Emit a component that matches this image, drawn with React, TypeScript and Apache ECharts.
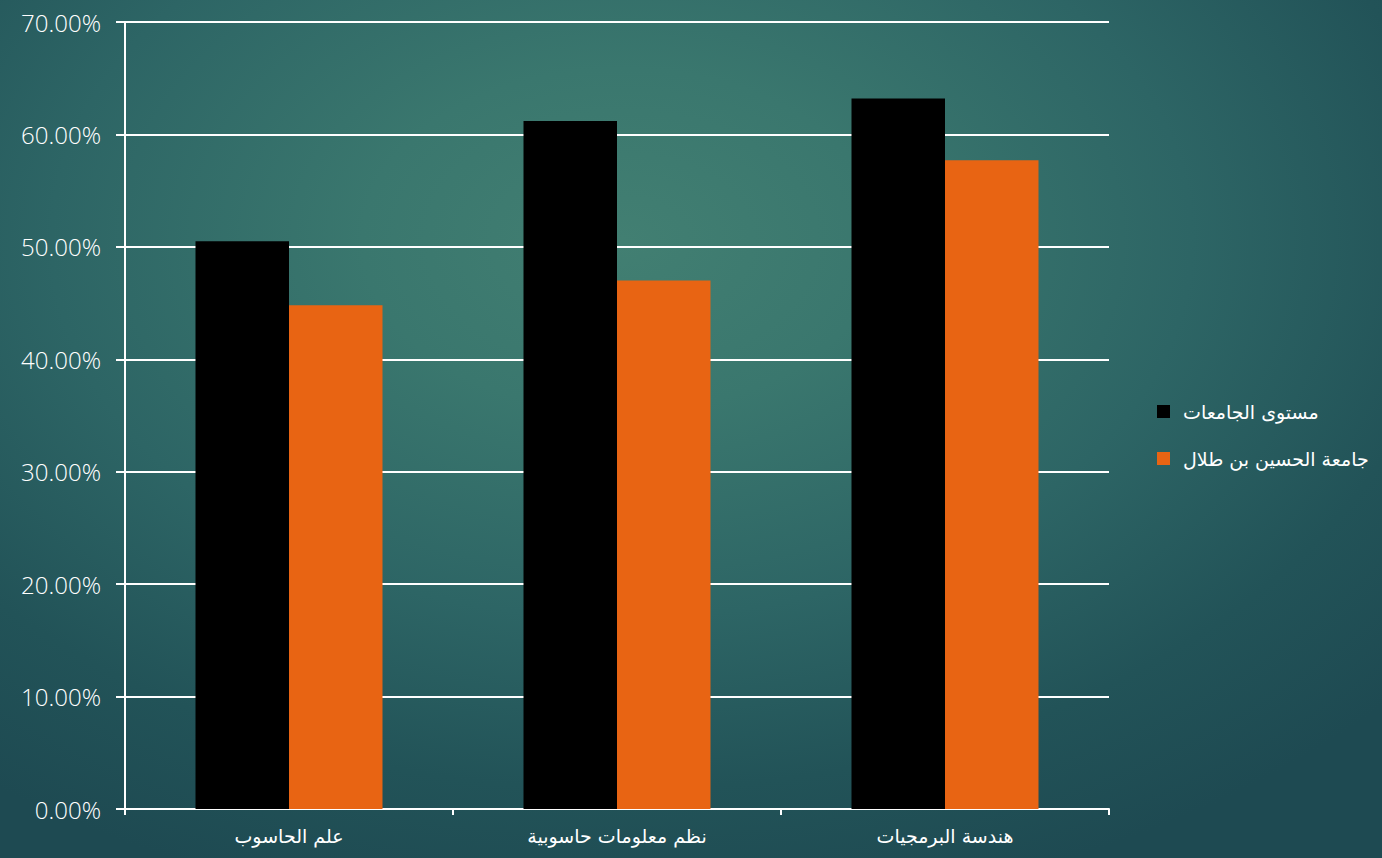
import React, { useEffect, useRef } from "react";
import * as echarts from "echarts";

const categories = ["علم الحاسوب", "نظم معلومات حاسوبية", "هندسة البرمجيات"];
const seriesNames = ["مستوى الجامعات", "جامعة الحسين بن طلال"];
const universitiesLevel = [0.505, 0.612, 0.632];
const husseinUniversity = [0.448, 0.47, 0.577];
const colors = ["#000000", "#E86413"];

export default function App() {
  const ref = useRef<HTMLDivElement>(null);
  useEffect(() => {
    if (!ref.current) return;
    const chart = echarts.init(ref.current, null, { renderer: "svg" });
    const axisFont = "'Open Sans', Lato, sans-serif";
    chart.setOption({
      animation: false,
      backgroundColor: "transparent",
      grid: { left: 125, right: 273, top: 22, bottom: 49, containLabel: false },
      legend: {
        orient: "vertical",
        left: 1152,
        top: 397,
        itemWidth: 13,
        itemHeight: 13,
        itemGap: 28,
        icon: "rect",
        textStyle: { color: "#ffffff", fontSize: 19, padding: [0, 0, 0, 8], fontFamily: "'DejaVu Sans', sans-serif" },
        data: seriesNames,
      },
      xAxis: {
        type: "category",
        data: categories,
        axisLine: { show: true, lineStyle: { color: "#ffffff", width: 2 } },
        axisTick: { show: true, length: 6, lineStyle: { color: "#ffffff", width: 2 } },
        axisLabel: { color: "#ffffff", fontSize: 19, margin: 17, fontFamily: "'DejaVu Sans', sans-serif" },
      },
      yAxis: {
        type: "value",
        min: 0,
        max: 0.7,
        interval: 0.1,
        axisLine: { show: true, lineStyle: { color: "#ffffff", width: 2 } },
        axisTick: { show: true, length: 9, lineStyle: { color: "#ffffff", width: 2 } },
        splitLine: { show: true, lineStyle: { color: "#ffffff", width: 2 } },
        axisLabel: {
          color: "#ffffff",
          fontSize: 24,
          fontWeight: 300,
          margin: 24,
          fontFamily: axisFont,
          formatter: (v: number) => (v * 100).toFixed(2) + "%",
        },
      },
      series: [
        {
          name: seriesNames[0],
          type: "bar",
          data: universitiesLevel,
          barWidth: 93.5,
          barGap: "0%",
          itemStyle: { color: colors[0] },
        },
        {
          name: seriesNames[1],
          type: "bar",
          data: husseinUniversity,
          barWidth: 93.5,
          barGap: "0%",
          itemStyle: { color: colors[1] },
        },
      ],
    });
    return () => chart.dispose();
  }, []);
  return (
    <div
      style={{
        position: "absolute",
        left: 0,
        top: 0,
        width: 1382,
        height: 858,
        background:
          "radial-gradient(ellipse 75% 80% at 45% 28%, #427f72 0%, #3a776e 25%, #2d6565 55%, #225358 80%, #1e4a52 100%)",
      }}
    >
      <div ref={ref} style={{ width: 1382, height: 858 }} />
    </div>
  );
}
